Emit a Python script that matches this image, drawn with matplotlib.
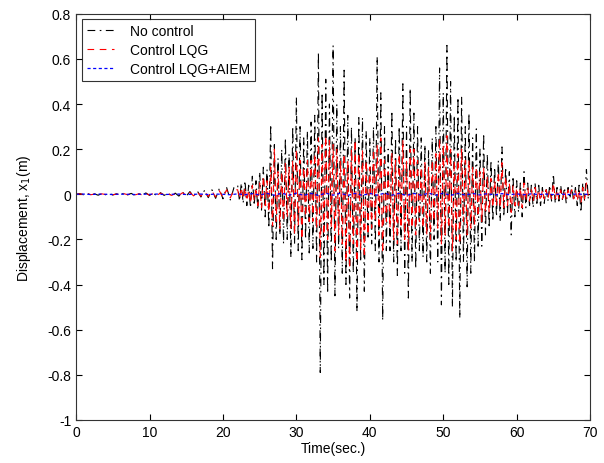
import numpy as np
import matplotlib
matplotlib.use("Agg")
import matplotlib.pyplot as plt

plt.rcParams['font.family'] = ['Liberation Sans', 'DejaVu Sans']

# quiet part of the record, sampled every 0.5 s from 0 to 21.5 s
t_quiet = np.arange(0, 22, 0.5)
x1_none_quiet = [0.0, 0.003, -0.002, 0.004, -0.003, 0.002, -0.004, 0.003, -0.002, 0.004,
                 -0.003, 0.002, -0.004, 0.005, -0.003, 0.004, -0.005, 0.003, -0.004, 0.006,
                 -0.005, 0.004, -0.006, 0.007, -0.005, 0.006, -0.007, 0.005, -0.008, 0.01,
                 -0.008, 0.012, -0.01, 0.015, -0.012, 0.018, -0.015, 0.02, -0.018, 0.025,
                 -0.02, 0.03, -0.025, 0.03]
x1_lqg_quiet = [0.0, 0.002, -0.001, 0.003, -0.002, 0.001, -0.003, 0.002, -0.001, 0.003,
                -0.002, 0.001, -0.003, 0.003, -0.002, 0.003, -0.003, 0.002, -0.003, 0.004,
                -0.003, 0.003, -0.004, 0.005, -0.003, 0.004, -0.005, 0.003, -0.005, 0.007,
                -0.005, 0.008, -0.007, 0.01, -0.008, 0.012, -0.01, 0.014, -0.012, 0.016,
                -0.014, 0.02, -0.016, 0.02]

# strong motion part, sampled every 0.25 s from 22 to 70 s
t_strong = np.arange(22, 70.01, 0.25)
x1_none_strong = [
    0.04, -0.03, 0.05, -0.04,   # 22
    0.06, -0.05, 0.04, -0.06,   # 23
    0.08, -0.05, 0.06, -0.07,   # 24
    0.10, -0.07, 0.12, -0.10,   # 25
    0.11, -0.15, 0.31, -0.33,   # 26
    0.22, -0.20, 0.16, -0.18,   # 27
    0.20, -0.22, 0.25, -0.20,   # 28
    0.18, -0.28, 0.30, -0.22,   # 29
    0.43, -0.25, 0.30, -0.29,   # 30
    0.25, -0.20, 0.28, -0.26,   # 31
    0.32, -0.24, 0.35, -0.30,   # 32
    0.63, -0.79, 0.45, -0.40,   # 33
    0.51, -0.44, 0.40, -0.30,   # 34
    0.66, -0.45, 0.40, -0.24,   # 35
    0.30, -0.35, 0.55, -0.40,   # 36
    0.35, -0.46, 0.30, -0.35,   # 37
    0.25, -0.52, 0.34, -0.30,   # 38
    0.34, -0.43, 0.28, -0.20,   # 39
    0.25, -0.22, 0.30, -0.25,   # 40
    0.61, -0.30, 0.45, -0.56,   # 41
    0.30, -0.25, 0.20, -0.25,   # 42
    0.37, -0.30, 0.25, -0.36,   # 43
    0.30, -0.25, 0.49, -0.35,   # 44
    0.30, -0.46, 0.47, -0.30,   # 45
    0.36, -0.33, 0.30, -0.25,   # 46
    0.25, -0.28, 0.22, -0.30,   # 47
    0.20, -0.35, 0.25, -0.20,   # 48
    0.30, -0.30, 0.56, -0.49,   # 49
    0.45, -0.35, 0.66, -0.40,   # 50
    0.50, -0.50, 0.35, -0.30,   # 51
    0.43, -0.55, 0.43, -0.30,   # 52
    0.30, -0.41, 0.36, -0.35,   # 53
    0.25, -0.30, 0.29, -0.23,   # 54
    0.20, -0.23, 0.27, -0.18,   # 55
    0.18, -0.15, 0.15, -0.12,   # 56
    0.12, -0.10, 0.15, -0.12,   # 57
    0.21, -0.10, 0.12, -0.08,   # 58
    0.10, -0.18, 0.08, -0.10,   # 59
    0.06, -0.08, 0.05, -0.10,   # 60
    0.10, -0.06, 0.05, -0.05,   # 61
    0.04, -0.06, 0.05, -0.04,   # 62
    0.04, -0.05, 0.03, -0.04,   # 63
    0.03, -0.03, 0.04, -0.03,   # 64
    0.09, -0.04, 0.03, -0.03,   # 65
    0.04, -0.03, 0.03, -0.04,   # 66
    0.03, -0.02, 0.04, -0.03,   # 67
    0.03, -0.05, 0.04, -0.08,   # 68
    0.05, -0.03, 0.11, -0.02,   # 69
    0.0]
x1_lqg_strong = [
    0.02, -0.02, 0.03, -0.02,   # 22
    0.03, -0.03, 0.02, -0.04,   # 23
    0.04, -0.03, 0.03, -0.05,   # 24
    0.05, -0.06, 0.08, -0.05,   # 25
    0.06, -0.08, 0.12, -0.14,   # 26
    0.20, -0.12, 0.10, -0.15,   # 27
    0.10, -0.12, 0.14, -0.10,   # 28
    0.12, -0.15, 0.15, -0.18,   # 29
    0.20, -0.14, 0.15, -0.20,   # 30
    0.12, -0.10, 0.15, -0.12,   # 31
    0.15, -0.12, 0.18, -0.15,   # 32
    0.25, -0.28, 0.22, -0.18,   # 33
    0.26, -0.20, 0.24, -0.15,   # 34
    0.22, -0.25, 0.20, -0.18,   # 35
    0.15, -0.22, 0.18, -0.30,   # 36
    0.15, -0.33, 0.20, -0.22,   # 37
    0.24, -0.30, 0.18, -0.25,   # 38
    0.20, -0.28, 0.15, -0.18,   # 39
    0.12, -0.15, 0.20, -0.12,   # 40
    0.22, -0.18, 0.25, -0.26,   # 41
    0.15, -0.12, 0.10, -0.15,   # 42
    0.18, -0.20, 0.15, -0.22,   # 43
    0.18, -0.15, 0.24, -0.20,   # 44
    0.15, -0.25, 0.20, -0.15,   # 45
    0.20, -0.18, 0.15, -0.12,   # 46
    0.12, -0.15, 0.14, -0.18,   # 47
    0.12, -0.20, 0.15, -0.12,   # 48
    0.18, -0.15, 0.25, -0.22,   # 49
    0.22, -0.18, 0.26, -0.15,   # 50
    0.20, -0.25, 0.15, -0.20,   # 51
    0.18, -0.22, 0.20, -0.12,   # 52
    0.15, -0.18, 0.15, -0.15,   # 53
    0.12, -0.14, 0.12, -0.10,   # 54
    0.10, -0.12, 0.12, -0.08,   # 55
    0.08, -0.08, 0.07, -0.06,   # 56
    0.06, -0.05, 0.10, -0.06,   # 57
    0.14, -0.06, 0.08, -0.05,   # 58
    0.05, -0.08, 0.04, -0.05,   # 59
    0.03, -0.05, 0.03, -0.06,   # 60
    0.05, -0.03, 0.03, -0.03,   # 61
    0.02, -0.03, 0.03, -0.02,   # 62
    0.02, -0.03, 0.02, -0.02,   # 63
    0.02, -0.02, 0.02, -0.02,   # 64
    0.05, -0.02, 0.02, -0.02,   # 65
    0.02, -0.02, 0.02, -0.02,   # 66
    0.02, -0.01, 0.02, -0.02,   # 67
    0.02, -0.03, 0.02, -0.04,   # 68
    0.03, -0.02, 0.05, -0.01,   # 69
    0.0]

# LQG + AIEM stays almost on zero, every 1 s
t_aiem = np.arange(0, 71, 1)
x1_aiem = [0.0, 0.001, -0.001, 0.001, 0.0, -0.001, 0.001, 0.0, -0.001, 0.001,
           0.0, 0.001, -0.001, 0.0, 0.001, -0.001, 0.0, 0.001, -0.001, 0.001,
           0.0, -0.002, 0.002, -0.002, 0.003, -0.003, 0.004, -0.004, 0.005, -0.004,
           0.005, -0.005, 0.004, -0.005, 0.005, -0.004, 0.005, -0.005, 0.004, -0.005,
           0.004, -0.004, 0.005, -0.004, 0.004, -0.005, 0.004, -0.004, 0.005, -0.004,
           0.005, -0.005, 0.004, -0.004, 0.004, -0.003, 0.003, -0.003, 0.003, -0.002,
           0.002, -0.002, 0.002, -0.001, 0.001, -0.001, 0.001, -0.001, 0.001, 0.0, 0.0]

t_none = np.concatenate([t_quiet, t_strong])
x1_none = np.concatenate([x1_none_quiet, x1_none_strong])
x1_lqg = np.concatenate([x1_lqg_quiet, x1_lqg_strong])

fig = plt.figure(figsize=(6.04, 4.64), dpi=100)
ax = fig.add_axes([0.126, 0.093, 0.851, 0.875])

ax.plot(t_none, x1_none, color='black', lw=0.8, linestyle=(0, (7, 4, 1.5, 4)), label='No control')
ax.plot(t_none, x1_lqg, color='red', lw=0.8, linestyle=(0, (6, 5)), label='Control LQG')
ax.plot(t_aiem, x1_aiem, color='blue', lw=0.9, linestyle=(0, (2.5, 2)), label='Control LQG+AIEM')

ax.set_xlim(0, 70)
ax.set_ylim(-1, 0.8)
ax.set_xticks(np.arange(0, 71, 10))
ax.set_yticks(np.round(np.arange(-1, 0.81, 0.2), 1))
ax.set_yticklabels(['-1', '-0.8', '-0.6', '-0.4', '-0.2', '0', '0.2', '0.4', '0.6', '0.8'])
ax.tick_params(direction='in', top=True, right=True, labelsize=10, length=4, width=0.8)
for sp in ax.spines.values():
    sp.set_linewidth(0.8)
    sp.set_color('#333333')

ax.set_xlabel('Time(sec.)', fontsize=10, labelpad=2)
ax.set_ylabel('Displacement, x$_1$(m)', fontsize=10, labelpad=10)

leg = ax.legend(loc='upper left', fontsize=10, frameon=True, fancybox=False,
                edgecolor='black', handlelength=2.0, handletextpad=1.1, borderpad=0.35,
                labelspacing=0.35, borderaxespad=0.4)
leg.get_frame().set_linewidth(0.8)

fig.savefig('out.png', dpi=100)
